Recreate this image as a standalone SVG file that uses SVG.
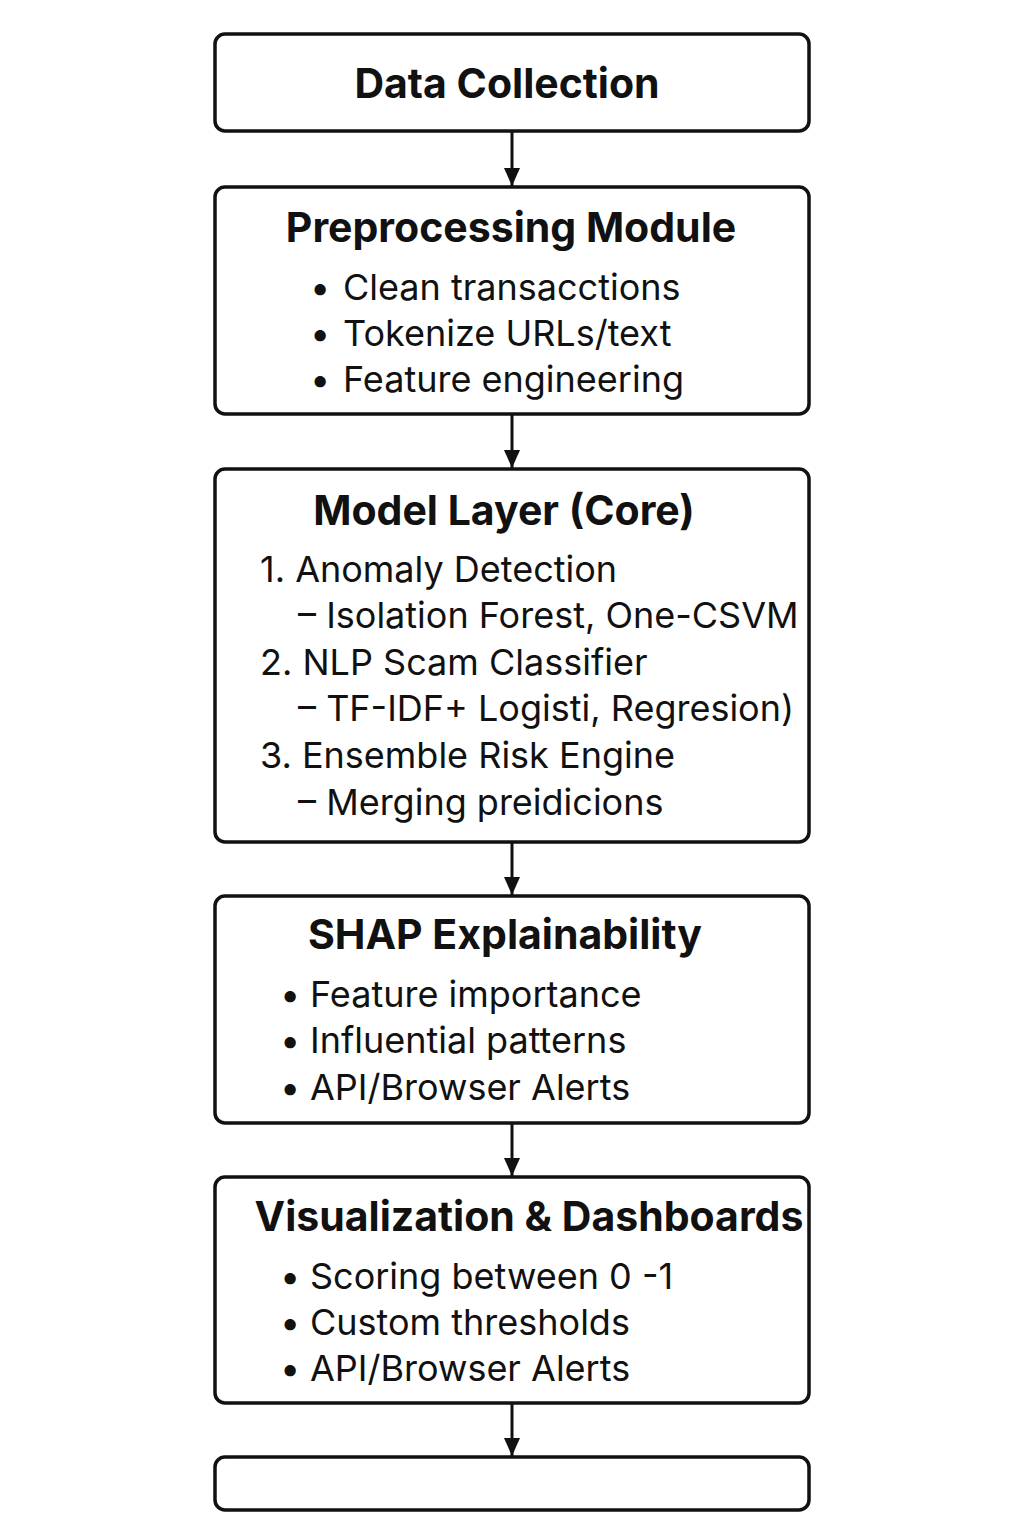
<svg xmlns="http://www.w3.org/2000/svg" width="1024" height="1536" viewBox="0 0 1024 1536">
<defs>
<style>
.box{fill:#fff;stroke:#111;stroke-width:3.5}
.t{font-family:Inter,"Liberation Sans",sans-serif;font-weight:700;font-size:41px;fill:#111;text-anchor:middle}
.b{font-family:Inter,"Liberation Sans",sans-serif;font-size:36px;fill:#111}
.c{stroke:#111;stroke-width:3;fill:none}
</style>
<marker id="ah" viewBox="0 0 18 16" refX="18" refY="8" markerWidth="18" markerHeight="16" markerUnits="userSpaceOnUse" orient="auto">
<path d="M0,0 L18,8 L0,16 z" fill="#111"/>
</marker>
</defs>
<rect width="1024" height="1536" fill="#fff"/>
<g id="connectors">
<line class="c" x1="512" y1="132" x2="512" y2="186" marker-end="url(#ah)"/>
<line class="c" x1="512" y1="415" x2="512" y2="468" marker-end="url(#ah)"/>
<line class="c" x1="512" y1="843" x2="512" y2="895" marker-end="url(#ah)"/>
<line class="c" x1="512" y1="1124" x2="512" y2="1176" marker-end="url(#ah)"/>
<line class="c" x1="512" y1="1404" x2="512" y2="1456" marker-end="url(#ah)"/>
</g>
<g id="data-collection">
<rect class="box" x="215" y="34" width="594" height="97" rx="10"/>
<text class="t" x="507" y="98">Data Collection</text>
</g>
<g id="preprocessing">
<rect class="box" x="215" y="187" width="594" height="227" rx="10"/>
<text class="t" x="511" y="242">Preprocessing Module</text>
<text class="b" x="310" y="300">•</text><text class="b" x="343" y="300">Clean transacctions</text>
<text class="b" x="310" y="346">•</text><text class="b" x="343" y="346">Tokenize URLs/text</text>
<text class="b" x="310" y="392">•</text><text class="b" x="343" y="392">Feature engineering</text>
</g>
<g id="model-layer">
<rect class="box" x="215" y="469" width="594" height="373" rx="10"/>
<text class="t" x="504" y="525">Model Layer (Core)</text>
<text class="b" x="260" y="582">1. Anomaly Detection</text>
<text class="b" x="298" y="628">– Isolation Forest, One-CSVM</text>
<text class="b" x="260" y="675">2. NLP Scam Classifier</text>
<text class="b" x="298" y="721">– TF-IDF+ Logisti, Regresion)</text>
<text class="b" x="260" y="768">3. Ensemble Risk Engine</text>
<text class="b" x="298" y="815">– Merging preidicions</text>
</g>
<g id="shap">
<rect class="box" x="215" y="896" width="594" height="227" rx="10"/>
<text class="t" x="505" y="949">SHAP Explainability</text>
<text class="b" x="280" y="1007">•</text><text class="b" x="310" y="1007">Feature importance</text>
<text class="b" x="280" y="1053">•</text><text class="b" x="310" y="1053">Influential patterns</text>
<text class="b" x="280" y="1100">•</text><text class="b" x="310" y="1100">API/Browser Alerts</text>
</g>
<g id="visualization">
<rect class="box" x="215" y="1177" width="594" height="226" rx="10"/>
<text class="t" x="529" y="1231">Visualization &amp; Dashboards</text>
<text class="b" x="280" y="1289">•</text><text class="b" x="310" y="1289">Scoring between 0 -1</text>
<text class="b" x="280" y="1335">•</text><text class="b" x="310" y="1335">Custom thresholds</text>
<text class="b" x="280" y="1381">•</text><text class="b" x="310" y="1381">API/Browser Alerts</text>
</g>
<g id="output">
<rect class="box" x="215" y="1457" width="594" height="53" rx="10"/>
</g>
</svg>
